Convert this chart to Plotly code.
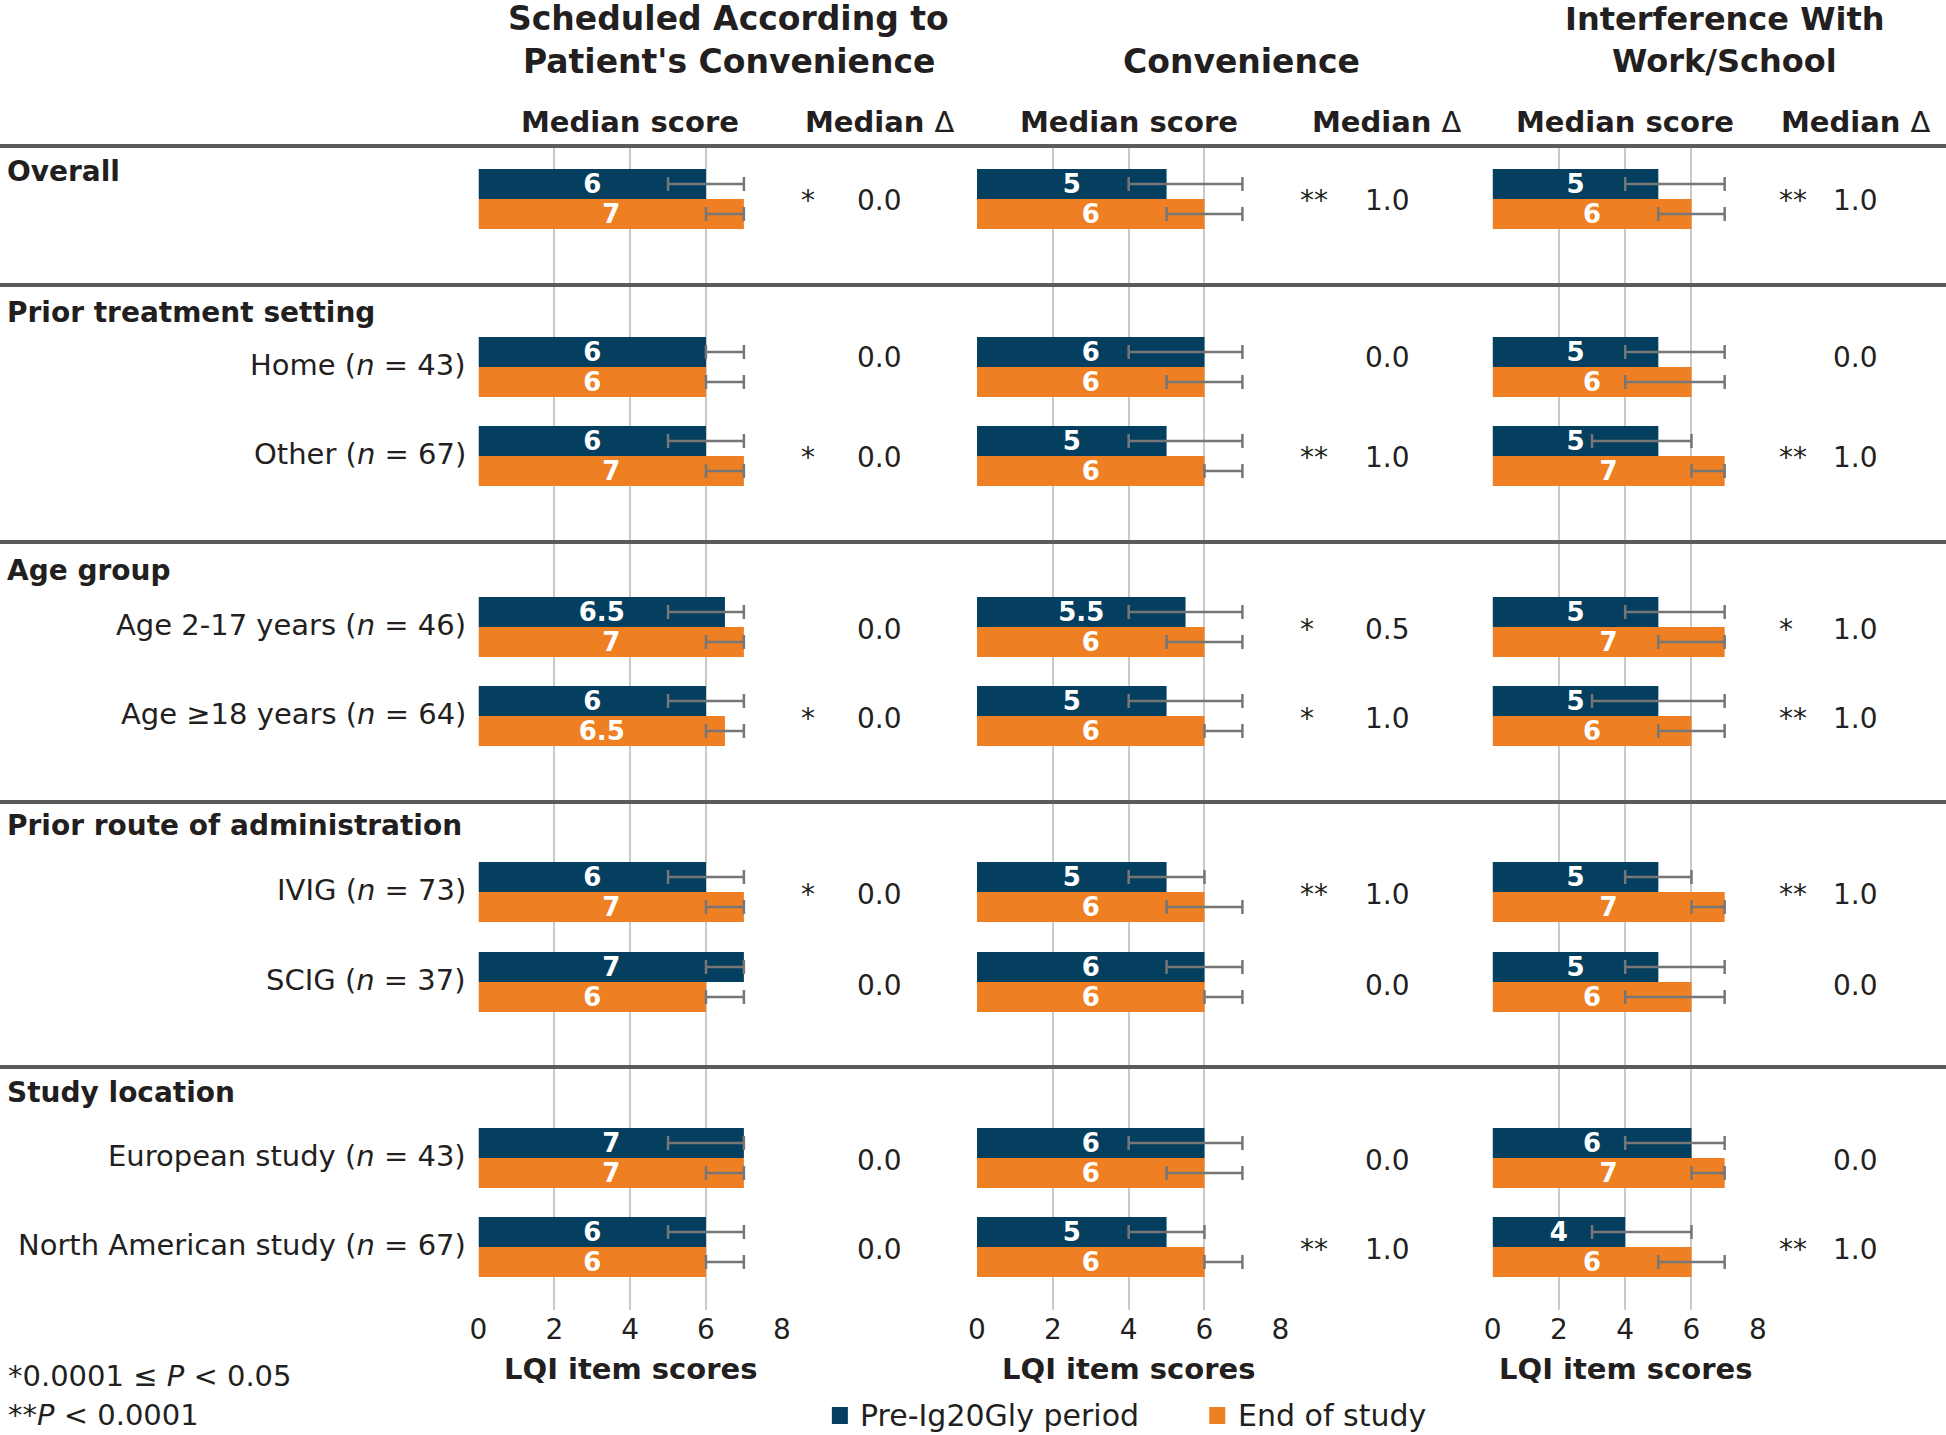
import plotly.graph_objects as go

# ---------------- data ----------------
section_headers = ["Overall", "Prior treatment setting", "Age group",
                   "Prior route of administration", "Study location"]
row_labels = ["", "Home (<i>n</i> = 43)", "Other (<i>n</i> = 67)",
              "Age 2-17 years (<i>n</i> = 46)", "Age \u226518 years (<i>n</i> = 64)",
              "IVIG (<i>n</i> = 73)", "SCIG (<i>n</i> = 37)",
              "European study (<i>n</i> = 43)", "North American study (<i>n</i> = 67)"]

panel_titles = [["Scheduled According to", "Patient's Convenience"],
                ["", "Convenience"],
                ["Interference With", "Work/School"]]
series_names = ["Pre-Ig20Gly period", "End of study"]
x_ticks = [0, 2, 4, 6, 8]

sched_pre = [6, 6, 6, 6.5, 6, 6, 7, 7, 6]
sched_pre_q1 = [5, 6, 5, 5, 5, 5, 6, 5, 5]
sched_pre_q3 = [7, 7, 7, 7, 7, 7, 7, 7, 7]
sched_end = [7, 6, 7, 7, 6.5, 7, 6, 7, 6]
sched_end_q1 = [6, 6, 6, 6, 6, 6, 6, 6, 6]
sched_end_q3 = [7, 7, 7, 7, 7, 7, 7, 7, 7]
sched_sig = ["*", "", "*", "", "*", "*", "", "", ""]
sched_delta = [0.0, 0.0, 0.0, 0.0, 0.0, 0.0, 0.0, 0.0, 0.0]

conv_pre = [5, 6, 5, 5.5, 5, 5, 6, 6, 5]
conv_pre_q1 = [4, 4, 4, 4, 4, 4, 5, 4, 4]
conv_pre_q3 = [7, 7, 7, 7, 7, 6, 7, 7, 6]
conv_end = [6, 6, 6, 6, 6, 6, 6, 6, 6]
conv_end_q1 = [5, 5, 6, 5, 6, 5, 6, 5, 6]
conv_end_q3 = [7, 7, 7, 7, 7, 7, 7, 7, 7]
conv_sig = ["**", "", "**", "*", "*", "**", "", "", "**"]
conv_delta = [1.0, 0.0, 1.0, 0.5, 1.0, 1.0, 0.0, 0.0, 1.0]

inter_pre = [5, 5, 5, 5, 5, 5, 5, 6, 4]
inter_pre_q1 = [4, 4, 3, 4, 3, 4, 4, 4, 3]
inter_pre_q3 = [7, 7, 6, 7, 7, 6, 7, 7, 6]
inter_end = [6, 6, 7, 7, 6, 7, 6, 7, 6]
inter_end_q1 = [5, 4, 6, 5, 5, 6, 4, 6, 5]
inter_end_q3 = [7, 7, 7, 7, 7, 7, 7, 7, 7]
inter_sig = ["**", "", "**", "*", "**", "**", "", "", "**"]
inter_delta = [1.0, 0.0, 1.0, 1.0, 1.0, 1.0, 0.0, 0.0, 1.0]

# ---------------- layout constants ----------------
W, H = 1946, 1435
# observed horizontal placement of the paper area on the page
PAPER_X0, PAPER_W = 10, 1926
FONT = "DejaVu Sans, Verdana, Arial, sans-serif"
TXT = "#231f20"
NAVY = "#043f5f"
ORANGE = "#ee7f23"
ERR = "#767676"
GRID = "#c9c9c9"
SEP = "#5b5b5b"

row_y = [199, 367, 456, 627, 716, 892, 982, 1158, 1247]   # pixel rows
delta_dy = [2, -9, 2, 2, 2, 2, 3, 2, 2]                    # text nudges (px)
sep_y = [146, 285, 542, 802, 1067]
head_y = [171, 313, 570, 826, 1092]
PLOT_TOP, PLOT_BOT = 146, 1310
BAR_H = 30

def fx(p):
    return (p - PAPER_X0) / PAPER_W

def fy(p):
    return 1 - p / H

def fmt(v):
    return str(int(v)) if float(v).is_integer() else str(v)

panels = [
    dict(pre=sched_pre, pq1=sched_pre_q1, pq3=sched_pre_q3,
         end=sched_end, eq1=sched_end_q1, eq3=sched_end_q3,
         sig=sched_sig, delta=sched_delta,
         dom=(479, 782), star_x=799, delta_x=880, title_x=729),
    dict(pre=conv_pre, pq1=conv_pre_q1, pq3=conv_pre_q3,
         end=conv_end, eq1=conv_end_q1, eq3=conv_end_q3,
         sig=conv_sig, delta=conv_delta,
         dom=(977, 1280), star_x=1298, delta_x=1387, title_x=1241),
    dict(pre=inter_pre, pq1=inter_pre_q1, pq3=inter_pre_q3,
         end=inter_end, eq1=inter_end_q1, eq3=inter_end_q3,
         sig=inter_sig, delta=inter_delta,
         dom=(1492, 1757), star_x=1776, delta_x=1855, title_x=1724),
]
title_line_y = [19, 61]
title_size = [33, 33, 32]

fig = go.Figure()
annotations = []
shapes = []


def ann(text, x, y, size, xanchor="center", yref="paper", bold=False):
    return dict(text=text, x=x, y=y, xref="paper", yref=yref, showarrow=False,
                xanchor=xanchor, yanchor="middle",
                font=dict(family=FONT, size=size, color=TXT,
                          weight="bold" if bold else "normal"))


for i, p in enumerate(panels):
    ax = "x" if i == 0 else f"x{i+1}"
    for k, (vals, q1, q3, col, off) in enumerate([
            (p["pre"], p["pq1"], p["pq3"], NAVY, -BAR_H),
            (p["end"], p["eq1"], p["eq3"], ORANGE, 0)]):
        fig.add_trace(go.Bar(
            x=vals, y=row_y, orientation="h",
            xaxis=ax, yaxis="y",
            width=BAR_H, offset=off,
            marker=dict(color=col, line=dict(width=0)),
            text=[fmt(v) for v in vals],
            textposition="inside", insidetextanchor="middle",
            textangle=0, constraintext="none",
            textfont=dict(family=FONT, size=26, color="white", weight="bold"),
            error_x=dict(type="data", symmetric=False,
                         array=[b - v for v, b in zip(vals, q3)],
                         arrayminus=[v - a for v, a in zip(vals, q1)],
                         color=ERR, thickness=2.5, width=7),
            name=series_names[k], showlegend=False, hoverinfo="skip",
        ))
    cx = (p["dom"][0] + p["dom"][1]) / 2
    for line, ly in zip(panel_titles[i], title_line_y):
        if line:
            annotations.append(ann(line, fx(p["title_x"]), fy(ly), title_size[i], bold=True))
    annotations.append(ann("Median score", fx(cx), fy(122), 29, bold=True))
    annotations.append(ann("<b>Median </b>\u0394", fx(p["delta_x"]), fy(122), 29))
    annotations.append(ann("LQI item scores", fx(cx), fy(1369), 29, bold=True))
    for r, yv in enumerate(row_y):
        annotations.append(ann(f"{p['delta'][r]:.1f}", fx(p["delta_x"]), yv + delta_dy[r], 28,
                               yref="y"))
        if p["sig"][r]:
            annotations.append(ann(p["sig"][r], fx(p["star_x"]), yv + delta_dy[r], 28,
                                   xanchor="left", yref="y"))

# section headers and row labels
for s, yv in zip(section_headers, head_y):
    annotations.append(ann(s, fx(6), fy(yv), 28, xanchor="left", bold=True))
for lab, yv in zip(row_labels, row_y):
    if lab:
        annotations.append(ann(lab, fx(469), yv - 2, 29, xanchor="right", yref="y"))

# separators (full page width)
for yv in sep_y:
    shapes.append(dict(type="line", xref="paper", yref="paper", x0=fx(0), x1=fx(W),
                       y0=fy(yv), y1=fy(yv), line=dict(color=SEP, width=4)))

# footnotes
annotations.append(ann("*0.0001 \u2264 <i>P</i> &lt; 0.05", fx(7), fy(1376), 29, xanchor="left"))
annotations.append(ann("**<i>P</i> &lt; 0.0001", fx(7), fy(1415), 29, xanchor="left"))

# legend
for name, col, sx, tx in [(series_names[0], NAVY, 832, 858), (series_names[1], ORANGE, 1209, 1236)]:
    shapes.append(dict(type="rect", xref="paper", yref="paper",
                       x0=fx(sx), x1=fx(sx + 16), y0=fy(1424), y1=fy(1407),
                       fillcolor=col, line=dict(width=0)))
    annotations.append(ann(name, fx(tx), fy(1415), 30, xanchor="left"))

xcommon = dict(range=[0, 8], tickvals=x_ticks, showgrid=True, gridcolor=GRID, gridwidth=2,
               zeroline=False, showline=False, ticks="", anchor="y",
               tickfont=dict(family=FONT, size=28, color=TXT), fixedrange=True)

fig.update_layout(
    width=W, height=H, autosize=False,
    margin=dict(l=0, r=0, t=0, b=0, pad=0),
    paper_bgcolor="white", plot_bgcolor="white",
    barmode="overlay", showlegend=False,
    font=dict(family=FONT, color=TXT),
    xaxis=dict(domain=[fx(479), fx(782)], **xcommon),
    xaxis2=dict(domain=[fx(977), fx(1280)], **xcommon),
    xaxis3=dict(domain=[fx(1492), fx(1757)], **xcommon),
    yaxis=dict(domain=[fy(PLOT_BOT), fy(PLOT_TOP)], range=[PLOT_BOT, PLOT_TOP],
               showgrid=False, zeroline=False, showticklabels=False, fixedrange=True),
    annotations=annotations, shapes=shapes,
)

fig.write_html(
    "out.html",
    config={"displayModeBar": False, "responsive": False},
    post_script=(
        "document.documentElement.style.margin='0';"
        "document.documentElement.style.overflow='hidden';"
        "document.body.style.margin='0';"
        "document.body.style.padding='0';"
        "document.body.style.overflow='hidden';"
        "var gd=document.getElementById('{plot_id}');"
        "gd.style.position='fixed';gd.style.left='0px';gd.style.top='0px';"
        "gd.style.margin='0';"
    ),
)
